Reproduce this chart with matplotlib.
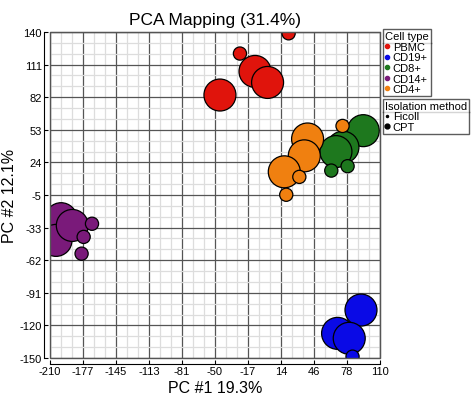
import numpy as np
import matplotlib
matplotlib.use('Agg')
import matplotlib.pyplot as plt
from matplotlib.lines import Line2D
from matplotlib.patches import Rectangle

plt.rcParams['font.family'] = ['Liberation Sans', 'DejaVu Sans']

# samples: (PC1, PC2, isolation method)
pbmc_x = [21.4, -25.8, -11.2, 1.0, -45.2]
pbmc_y = [138.8, 120.8, 104.9, 95.1, 83.9]
pbmc_m = ['Ficoll', 'Ficoll', 'CPT', 'CPT', 'CPT']

cd19_x = [91.6, 68.9, 80.2, 83.4]
cd19_y = [-107.4, -128.1, -132.5, -148.8]
cd19_m = ['CPT', 'CPT', 'CPT', 'Ficoll']

cd8_x = [93.8, 74.1, 67.3, 62.8, 78.6]
cd8_y = [52.2, 37.5, 33.6, 16.7, 20.6]
cd8_m = ['CPT', 'CPT', 'CPT', 'Ficoll', 'Ficoll']

cd14_x = [-199.3, -204.2, -188.4, -169.3, -177.4, -179.4]
cd14_y = [-26.1, -45.4, -32.1, -30.6, -42.3, -57.2]
cd14_m = ['CPT', 'CPT', 'CPT', 'Ficoll', 'Ficoll', 'Ficoll']

cd4_x = [39.8, 36.6, 17.2, 73.7, 31.8, 19.1]
cd4_y = [44.8, 29.8, 15.6, 56.4, 11.1, -4.8]
cd4_m = ['CPT', 'CPT', 'CPT', 'Ficoll', 'Ficoll', 'Ficoll']

cell_types = ['PBMC', 'CD19+', 'CD8+', 'CD14+', 'CD4+']
colors = ['#e0140c', '#0a0ae6', '#1e781e', '#7a1a7a', '#f08010']
groups = [(pbmc_x, pbmc_y, pbmc_m), (cd19_x, cd19_y, cd19_m), (cd8_x, cd8_y, cd8_m),
          (cd14_x, cd14_y, cd14_m), (cd4_x, cd4_y, cd4_m)]
sizes = {'CPT': 530, 'Ficoll': 90}

xticks = np.linspace(-210, 110, 11)
xlabels = ['-210', '-177', '-145', '-113', '-81', '-50', '-17', '14', '46', '78', '110']
yticks = np.linspace(-150, 140, 11)
ylabels = ['-150', '-120', '-91', '-62', '-33', '-5', '24', '53', '82', '111', '140']

fig = plt.figure(figsize=(4.72, 4.02), dpi=100)
ax = fig.add_axes([0.106, 0.107, 0.699, 0.811])

for (gx, gy, gm), c in zip(groups, colors):
    s = [sizes[m] for m in gm]
    ax.scatter(gx, gy, s=s, c=c, edgecolors='black', linewidths=0.9, zorder=3)

ax.set_xlim(-210, 110)
ax.set_ylim(-150, 140)
ax.set_xticks(xticks)
ax.set_xticklabels(xlabels)
ax.set_yticks(yticks)
ax.set_yticklabels(ylabels)
ax.set_xticks(np.linspace(-210, 110, 31), minor=True)
ax.set_yticks(np.linspace(-150, 140, 31), minor=True)
ax.grid(which='major', color='#555555', lw=0.9, zorder=1)
ax.grid(which='minor', color='#dddddd', lw=0.9, zorder=0)
ax.tick_params(which='major', direction='in', length=3, labelsize=8, pad=2)
ax.tick_params(which='minor', length=0)
for side in ['left', 'bottom']:
    ax.spines[side].set_position(('outward', 4))
    ax.spines[side].set_color('black')
for side in ['top', 'right']:
    ax.spines[side].set_color('#555555')
ax.add_patch(Rectangle((0, 0), 1, 1, transform=ax.transAxes, fill=False,
                       ec='#555555', lw=1, clip_on=False, zorder=4))

ax.set_title('PCA Mapping (31.4%)', fontsize=12.5, pad=6)
ax.set_xlabel('PC #1 19.3%', fontsize=11.5, labelpad=3)
ax.set_ylabel('PC #2 12.1%', fontsize=11.5, labelpad=2)

h1 = [Line2D([], [], ls='', marker='o', ms=3, color=c) for c in colors]
leg1 = fig.legend(h1, cell_types, title='Cell type', loc='upper left',
                  bbox_to_anchor=(0.811, 0.925), fontsize=8, title_fontsize=8,
                  frameon=True, fancybox=False, edgecolor='#333333',
                  handlelength=0.4, handletextpad=0.3, labelspacing=0.05,
                  borderpad=0.2, borderaxespad=0, alignment='left')
h2 = [Line2D([], [], ls='', marker='o', ms=1.5, color='black'),
      Line2D([], [], ls='', marker='o', ms=3.5, color='black')]
leg2 = fig.legend(h2, ['Ficoll', 'CPT'], title='Isolation method', loc='upper left',
                  bbox_to_anchor=(0.811, 0.752), fontsize=8, title_fontsize=8,
                  frameon=True, fancybox=False, edgecolor='#333333',
                  handlelength=0.4, handletextpad=0.3, labelspacing=0.05,
                  borderpad=0.2, borderaxespad=0, alignment='left')

fig.canvas.draw()
r = fig.canvas.get_renderer()
for leg in [leg1, leg2]:
    fb = leg.get_frame().get_window_extent(r)
    tb = leg.get_title().get_window_extent(r)
    yline = (tb.y0 - 1.5) / fig.bbox.height
    fig.add_artist(Line2D([fb.x0 / fig.bbox.width, fb.x1 / fig.bbox.width], [yline, yline],
                          color='#333333', lw=1, transform=fig.transFigure))

fig.savefig('out.png', dpi=100)
